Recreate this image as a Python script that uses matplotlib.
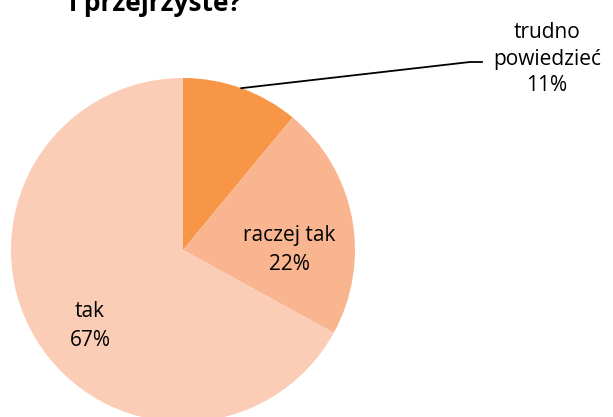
import matplotlib
matplotlib.use("Agg")
import matplotlib.pyplot as plt
import numpy as np

categories = ["trudno\npowiedzieć", "raczej tak", "tak"]
values = [11, 22, 67]
colors = ["#F79646", "#F9B590", "#FBCCB6"]
title = "i przejrzyste?"

W, H = 613, 417
fig = plt.figure(figsize=(W / 100, H / 100), dpi=100)
ax = fig.add_axes([0, 0, 1, 1])

cx, cy, r = 183, H - 250, 172
wedges, _ = ax.pie(values, colors=colors, startangle=90, counterclock=False,
                   center=(cx, cy), radius=r, frame=True,
                   wedgeprops=dict(linewidth=0))
ax.set_xlim(0, W)
ax.set_ylim(0, H)
ax.set_aspect("equal")
ax.axis("off")

font = "Open Sans"
fs = 15
ls = 1.5

# inside labels
ax.text(289, H - 250, f"{categories[1]}\n{values[1]}%", ha="center", va="center",
        fontsize=fs, family=font, linespacing=ls)
ax.text(90, H - 326, f"{categories[2]}\n{values[2]}%", ha="center", va="center",
        fontsize=fs, family=font, linespacing=ls)

# outside label with leader line
w0 = wedges[0]
mid = np.deg2rad((w0.theta1 + w0.theta2) / 2)
px, py = cx + r * np.cos(mid), cy + r * np.sin(mid)
ax.plot([px, 470, 482], [py, H - 62, H - 62], color="black", lw=1.3)
ax.text(547, H - 59, f"{categories[0]}\n{values[0]}%", ha="center", va="center",
        fontsize=fs, family=font, linespacing=1.35)

fig.text(155 / W, 1 - 11 / H, title, ha="center", va="baseline",
         fontsize=19, fontweight="bold", family=font)

fig.savefig("out.png", dpi=100)
